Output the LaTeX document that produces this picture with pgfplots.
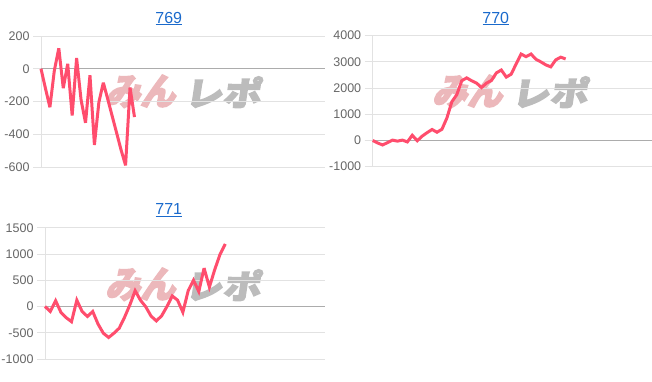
\documentclass[border=0pt]{standalone}
\usepackage{pgfplots}
\pgfplotsset{compat=1.18}
\usepackage{fontspec}
\setmainfont{Liberation Sans}
\newfontfamily\cjk{Noto Sans CJK JP}[FakeBold=4]
\usepackage{graphicx}
\definecolor{linec}{RGB}{255,77,109}
\definecolor{gridc}{RGB}{226,226,226}
\definecolor{zeroc}{RGB}{172,172,172}
\definecolor{tickc}{RGB}{102,102,102}
\definecolor{titlec}{RGB}{26,106,204}
\definecolor{wmpink}{RGB}{236,184,187}
\definecolor{wmgray}{RGB}{188,188,188}
\pgfplotsset{mystyle/.style={
  scale only axis, anchor=south west,
  axis line style={draw=none},
  ymajorgrids, xmajorgrids,
  grid style={draw=gridc, line width=0.8pt},
  xtick={0}, xticklabels={}, xtick style={draw=none},
  ytick pos=left, tick align=outside, major tick length=8pt,
  ytick style={draw=gridc, line width=0.8pt},
  yticklabel style={font=\fontsize{12.5}{12.5}\selectfont, text=tickc},
  /pgf/number format/assume math mode=true,
  /pgf/number format/1000 sep={},
  extra y ticks={0}, extra y tick labels={},
  extra y tick style={grid style={draw=zeroc, line width=0.8pt}},
  xmin=0, clip=false,
}}
\newcommand{\wm}[2]{%
  \node[anchor=south west, inner sep=0pt, xslant=0.25, text=wmpink] at (#1pt,#2pt) {\resizebox{70pt}{30pt}{\cjk\bfseries みん}};
  \node[anchor=south west, inner sep=0pt, xslant=0.15, text=wmgray] at (#1pt+80pt,#2pt) {\resizebox{76pt}{29pt}{\cjk\bfseries レポ}};
}
\begin{document}
\begin{tikzpicture}[x=1pt,y=1pt]
\useasboundingbox (0,0) rectangle (652,382);
% watermarks
\wm{104}{274}
\wm{431}{274}
\wm{104}{81}
% titles
\node[anchor=base, text=titlec, font=\fontsize{16}{16}\selectfont, inner sep=0pt] at (168.7,358.7) {769};
\draw[titlec, line width=1pt] (155.7,357.4) -- (181.7,357.4);
\node[anchor=base, text=titlec, font=\fontsize{16}{16}\selectfont, inner sep=0pt] at (495.7,358.7) {770};
\draw[titlec, line width=1pt] (482.7,357.4) -- (508.7,357.4);
\node[anchor=base, text=titlec, font=\fontsize{16}{16}\selectfont, inner sep=0pt] at (168.7,167) {771};
\draw[titlec, line width=1pt] (155.7,165.7) -- (181.7,165.7);

\begin{axis}[mystyle, at={(41pt,215pt)}, width=284pt, height=131pt,
  xmax=63.8, ymin=-600, ymax=200, ytick={-600,-400,-200,0,200}]
\addplot[linec, line width=3pt, line join=miter, miter limit=4, mark=none] coordinates {
(0,0) (1,-120) (2,-235) (3,-10) (4,125) (5,-118) (6,30) (7,-285) (8,65) (9,-190)
(10,-330) (11,-40) (12,-465) (13,-205) (14,-85) (15,-186) (16,-290) (17,-393) (18,-497) (19,-590)
(20,-115) (21,-295)};
\end{axis}

\begin{axis}[mystyle, at={(372.7pt,215.3pt)}, width=279pt, height=131pt,
  xmax=56.4, ymin=-1000, ymax=4000, ytick={-1000,0,1000,2000,3000,4000}]
\addplot[linec, line width=3pt, line join=miter, miter limit=4, mark=none] coordinates {
(0,0) (1,-95) (2,-170) (3,-80) (4,15) (5,-25) (6,15) (7,-55) (8,200) (9,-10)
(10,165) (11,300) (12,420) (13,315) (14,430) (15,860) (16,1480) (17,1750) (18,2280) (19,2390)
(20,2280) (21,2190) (22,2020) (23,2190) (24,2290) (25,2580) (26,2690) (27,2420) (28,2531) (29,2924)
(30,3300) (31,3200) (32,3300) (33,3100) (34,3000) (35,2886) (36,2810) (37,3076) (38,3180) (39,3114)};
\end{axis}

\begin{axis}[mystyle, at={(45pt,23pt)}, width=280pt, height=131.3pt,
  xmax=52.8, ymin=-1000, ymax=1500, ytick={-1000,-500,0,500,1000,1500}]
\addplot[linec, line width=3pt, line join=miter, miter limit=4, mark=none] coordinates {
(0,0) (1,-95) (2,110) (3,-111) (4,-213) (5,-290) (6,120) (7,-95) (8,-190) (9,-96)
(10,-334) (11,-509) (12,-590) (13,-509) (14,-413) (15,-206) (16,30) (17,300) (18,120) (19,-6)
(20,-183) (21,-275) (22,-177) (23,0) (24,200) (25,120) (26,-110) (27,300) (28,500) (29,285)
(30,730) (31,370) (32,700) (33,990) (34,1190)};
\end{axis}
\end{tikzpicture}
\end{document}
